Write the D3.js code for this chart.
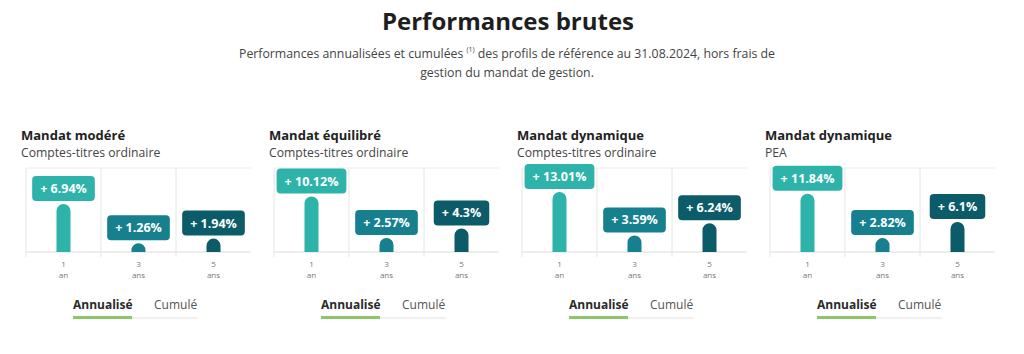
<!DOCTYPE html>
<html>
<head>
<meta charset="utf-8">
<script src="https://cdn.jsdelivr.net/npm/d3@7"></script>
<style>
  body { margin: 0; background: #fff; }
  svg text { font-family: "Open Sans", Lato, sans-serif; }
</style>
</head>
<body>
<div id="chart"></div>
<script>
// data
const mandats = ["Mandat modéré", "Mandat équilibré", "Mandat dynamique", "Mandat dynamique"];
const enveloppes = ["Comptes-titres ordinaire", "Comptes-titres ordinaire", "Comptes-titres ordinaire", "PEA"];
const periodes = ["1", "3", "5"];
const unites = ["an", "ans", "ans"];
const perf = [
  [6.94, 1.26, 1.94],
  [10.12, 2.57, 4.3],
  [13.01, 3.59, 6.24],
  [11.84, 2.82, 6.1]
];
const labels = [
  ["+ 6.94%", "+ 1.26%", "+ 1.94%"],
  ["+ 10.12%", "+ 2.57%", "+ 4.3%"],
  ["+ 13.01%", "+ 3.59%", "+ 6.24%"],
  ["+ 11.84%", "+ 2.82%", "+ 6.1%"]
];
const tabs = ["Annualisé", "Cumulé"];

const width = 1024, height = 354;
const colors = ["#2db3a9", "#16808f", "#0c5b69"];

const svg = d3.select("#chart").append("svg")
  .attr("width", width)
  .attr("height", height);

// header
svg.append("text")
  .attr("x", 508).attr("y", 30)
  .attr("text-anchor", "middle")
  .attr("font-size", 24).attr("font-weight", 700)
  .attr("fill", "#1e1e1e")
  .text("Performances brutes");

const sub = svg.append("text")
  .attr("x", 507).attr("y", 58)
  .attr("text-anchor", "middle")
  .attr("font-size", 12.3).attr("fill", "#444");
sub.append("tspan").text("Performances annualisées et cumulées ");
sub.append("tspan").attr("font-size", 7).attr("dy", -6).text("(1)");
sub.append("tspan").attr("dy", 6).text(" des profils de référence au 31.08.2024, hors frais de");

svg.append("text")
  .attr("x", 507).attr("y", 77)
  .attr("text-anchor", "middle")
  .attr("font-size", 12.3).attr("fill", "#444")
  .text("gestion du mandat de gestion.");

const panelX = [21, 269, 517, 765];
const plotTop = 168, plotBottom = 252, plotW = 225;
const barW = 14;

mandats.forEach((m, p) => {
  const g = svg.append("g").attr("transform", `translate(${panelX[p]},0)`);

  g.append("text").attr("x", 0).attr("y", 140)
    .attr("font-size", 13).attr("font-weight", 700).attr("fill", "#222")
    .text(m);
  g.append("text").attr("x", 0).attr("y", 157)
    .attr("font-size", 12.2).attr("fill", "#444")
    .text(enveloppes[p]);

  const x = d3.scaleBand().domain(periodes).range([5, 5 + plotW]);
  const y = d3.scaleLinear()
    .domain([0, d3.max(perf[p]) + 5.2])
    .range([plotBottom, plotTop]);

  // grid
  g.append("line").attr("x1", 5).attr("x2", 5 + plotW)
    .attr("y1", plotTop).attr("y2", plotTop)
    .attr("stroke", "#ececec");
  g.append("line").attr("x1", 5).attr("x2", 5 + plotW)
    .attr("y1", plotBottom).attr("y2", plotBottom)
    .attr("stroke", "#dcdcdc");
  g.selectAll(".vgrid").data(periodes).join("line")
    .attr("x1", d => x(d)).attr("x2", d => x(d))
    .attr("y1", plotTop).attr("y2", plotBottom + 5)
    .attr("stroke", "#e6e6e6");

  const data = periodes.map((d, i) => ({ per: d, v: perf[p][i], lab: labels[p][i], i: i }));

  // rounded-top bars
  g.selectAll(".bar").data(data).join("path")
    .attr("fill", d => colors[d.i])
    .attr("d", d => {
      const cx = x(d.per) + x.bandwidth() / 2;
      const x0 = cx - barW / 2, x1 = cx + barW / 2;
      const top = y(d.v), r = barW / 2;
      return `M${x0},${plotBottom} L${x0},${top + r} A${r},${r} 0 0 1 ${x1},${top + r} L${x1},${plotBottom} Z`;
    });

  // value boxes
  const lab = g.selectAll(".lab").data(data).join("g")
    .attr("transform", d => `translate(${x(d.per) + x.bandwidth() / 2},${y(d.v) - 3})`);
  lab.append("text")
    .attr("text-anchor", "middle")
    .attr("y", -8)
    .attr("font-size", 12.5).attr("font-weight", 700)
    .attr("fill", "#fff")
    .text(d => d.lab)
    .each(function (d) { d.tw = this.getComputedTextLength(); });
  lab.insert("rect", "text")
    .attr("x", d => -(d.tw / 2 + 8)).attr("width", d => d.tw + 16)
    .attr("y", -25).attr("height", 25)
    .attr("rx", 4)
    .attr("fill", d => colors[d.i]);

  // axis labels
  g.selectAll(".tk").data(data).join("text")
    .attr("x", d => x(d.per) + x.bandwidth() / 2).attr("y", 267)
    .attr("text-anchor", "middle").attr("font-size", 8).attr("fill", "#777")
    .text(d => d.per);
  g.selectAll(".un").data(data).join("text")
    .attr("x", d => x(d.per) + x.bandwidth() / 2).attr("y", 278)
    .attr("text-anchor", "middle").attr("font-size", 8).attr("fill", "#777")
    .text((d, i) => unites[i]);

  // tabs
  g.append("line").attr("x1", 52).attr("x2", 177)
    .attr("y1", 318).attr("y2", 318).attr("stroke", "#e2e2e2");
  g.append("line").attr("x1", 52).attr("x2", 111)
    .attr("y1", 317.5).attr("y2", 317.5)
    .attr("stroke", "#8cc56a").attr("stroke-width", 3);
  g.append("text").attr("x", 52).attr("y", 309)
    .attr("font-size", 12).attr("font-weight", 700).attr("fill", "#2a2a2a")
    .text(tabs[0]);
  g.append("text").attr("x", 133).attr("y", 309)
    .attr("font-size", 12).attr("fill", "#555")
    .text(tabs[1]);
});
</script>
</body>
</html>
